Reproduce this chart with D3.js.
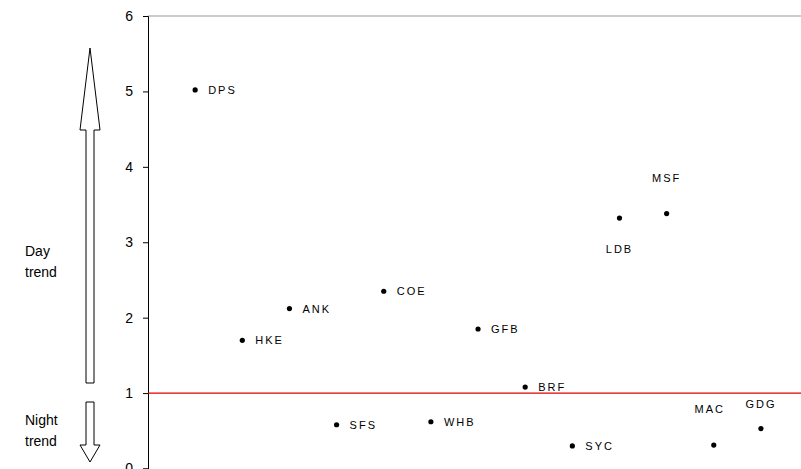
<!DOCTYPE html><html><head><script src="https://cdn.jsdelivr.net/npm/d3@7"></script>
<style>body{margin:0;background:#fff}text{font-family:Arial,"Liberation Sans",sans-serif}</style></head><body>
<script>
const sites=["DPS","HKE","ANK","SFS","COE","WHB","GFB","BRF","SYC","LDB","MSF","MAC","GDG"];
const values=[5.02,1.70,2.12,0.58,2.35,0.62,1.85,1.08,0.30,3.32,3.38,0.31,0.53];
const labelPos=["r","r","r","r","r","r","r","r","r","b","t","tl","t2"];
const yTicks=[0,1,2,3,4,5,6];
const W=801,H=469;
const svg=d3.select("body").append("svg").attr("width",W).attr("height",H);
const x=d3.scaleLinear().domain([0,13.85]).range([148,801]);
const y=d3.scaleLinear().domain([0,6]).range([468.5,16]);
svg.append("line").attr("x1",148).attr("x2",801).attr("y1",16).attr("y2",16).attr("stroke","#999");
const ax=svg.append("g").attr("transform","translate(148,0)").call(d3.axisLeft(y).tickValues(yTicks).tickSize(5).tickPadding(10).tickFormat(d3.format("d")));
ax.selectAll("path,line").attr("stroke","#000");
ax.selectAll("text").attr("font-size",14).attr("fill","#000");
svg.append("line").attr("x1",148).attr("x2",801).attr("y1",y(1)).attr("y2",y(1)).attr("stroke","#e00000").attr("stroke-width",1.2);
const g=svg.selectAll(".p").data(sites).enter().append("g");
g.append("circle").attr("cx",(d,i)=>x(i+1)).attr("cy",(d,i)=>y(values[i])).attr("r",2.6).attr("fill","#000");
g.append("text").text(d=>d).attr("font-size",11).attr("letter-spacing",2)
 .attr("x",(d,i)=>{const p=labelPos[i];return x(i+1)+(p=="r"?13:p=="tl"?-4:0)})
 .attr("y",(d,i)=>{const p=labelPos[i];return y(values[i])+(p=="r"?4:p=="b"?35:p=="t2"?-21:-32)})
 .attr("text-anchor",(d,i)=>{const p=labelPos[i];return p=="r"?"start":"middle"});
const cx=90;
svg.append("path").attr("d",`M${cx-4},383 L${cx-4},130 L${cx-10},130 L${cx},48 L${cx+10},130 L${cx+4},130 L${cx+4},383 Z`).attr("fill","#fff").attr("stroke","#000");
svg.append("path").attr("d",`M${cx-4},402 L${cx+4},402 L${cx+4},445 L${cx+10},445 L${cx},462 L${cx-10},445 L${cx-4},445 Z`).attr("fill","#fff").attr("stroke","#000");
[["Day",256],["trend",277],["Night",425],["trend",446]].forEach(t=>svg.append("text").text(t[0]).attr("x",25).attr("y",t[1]).attr("font-size",14));
</script></body></html>
